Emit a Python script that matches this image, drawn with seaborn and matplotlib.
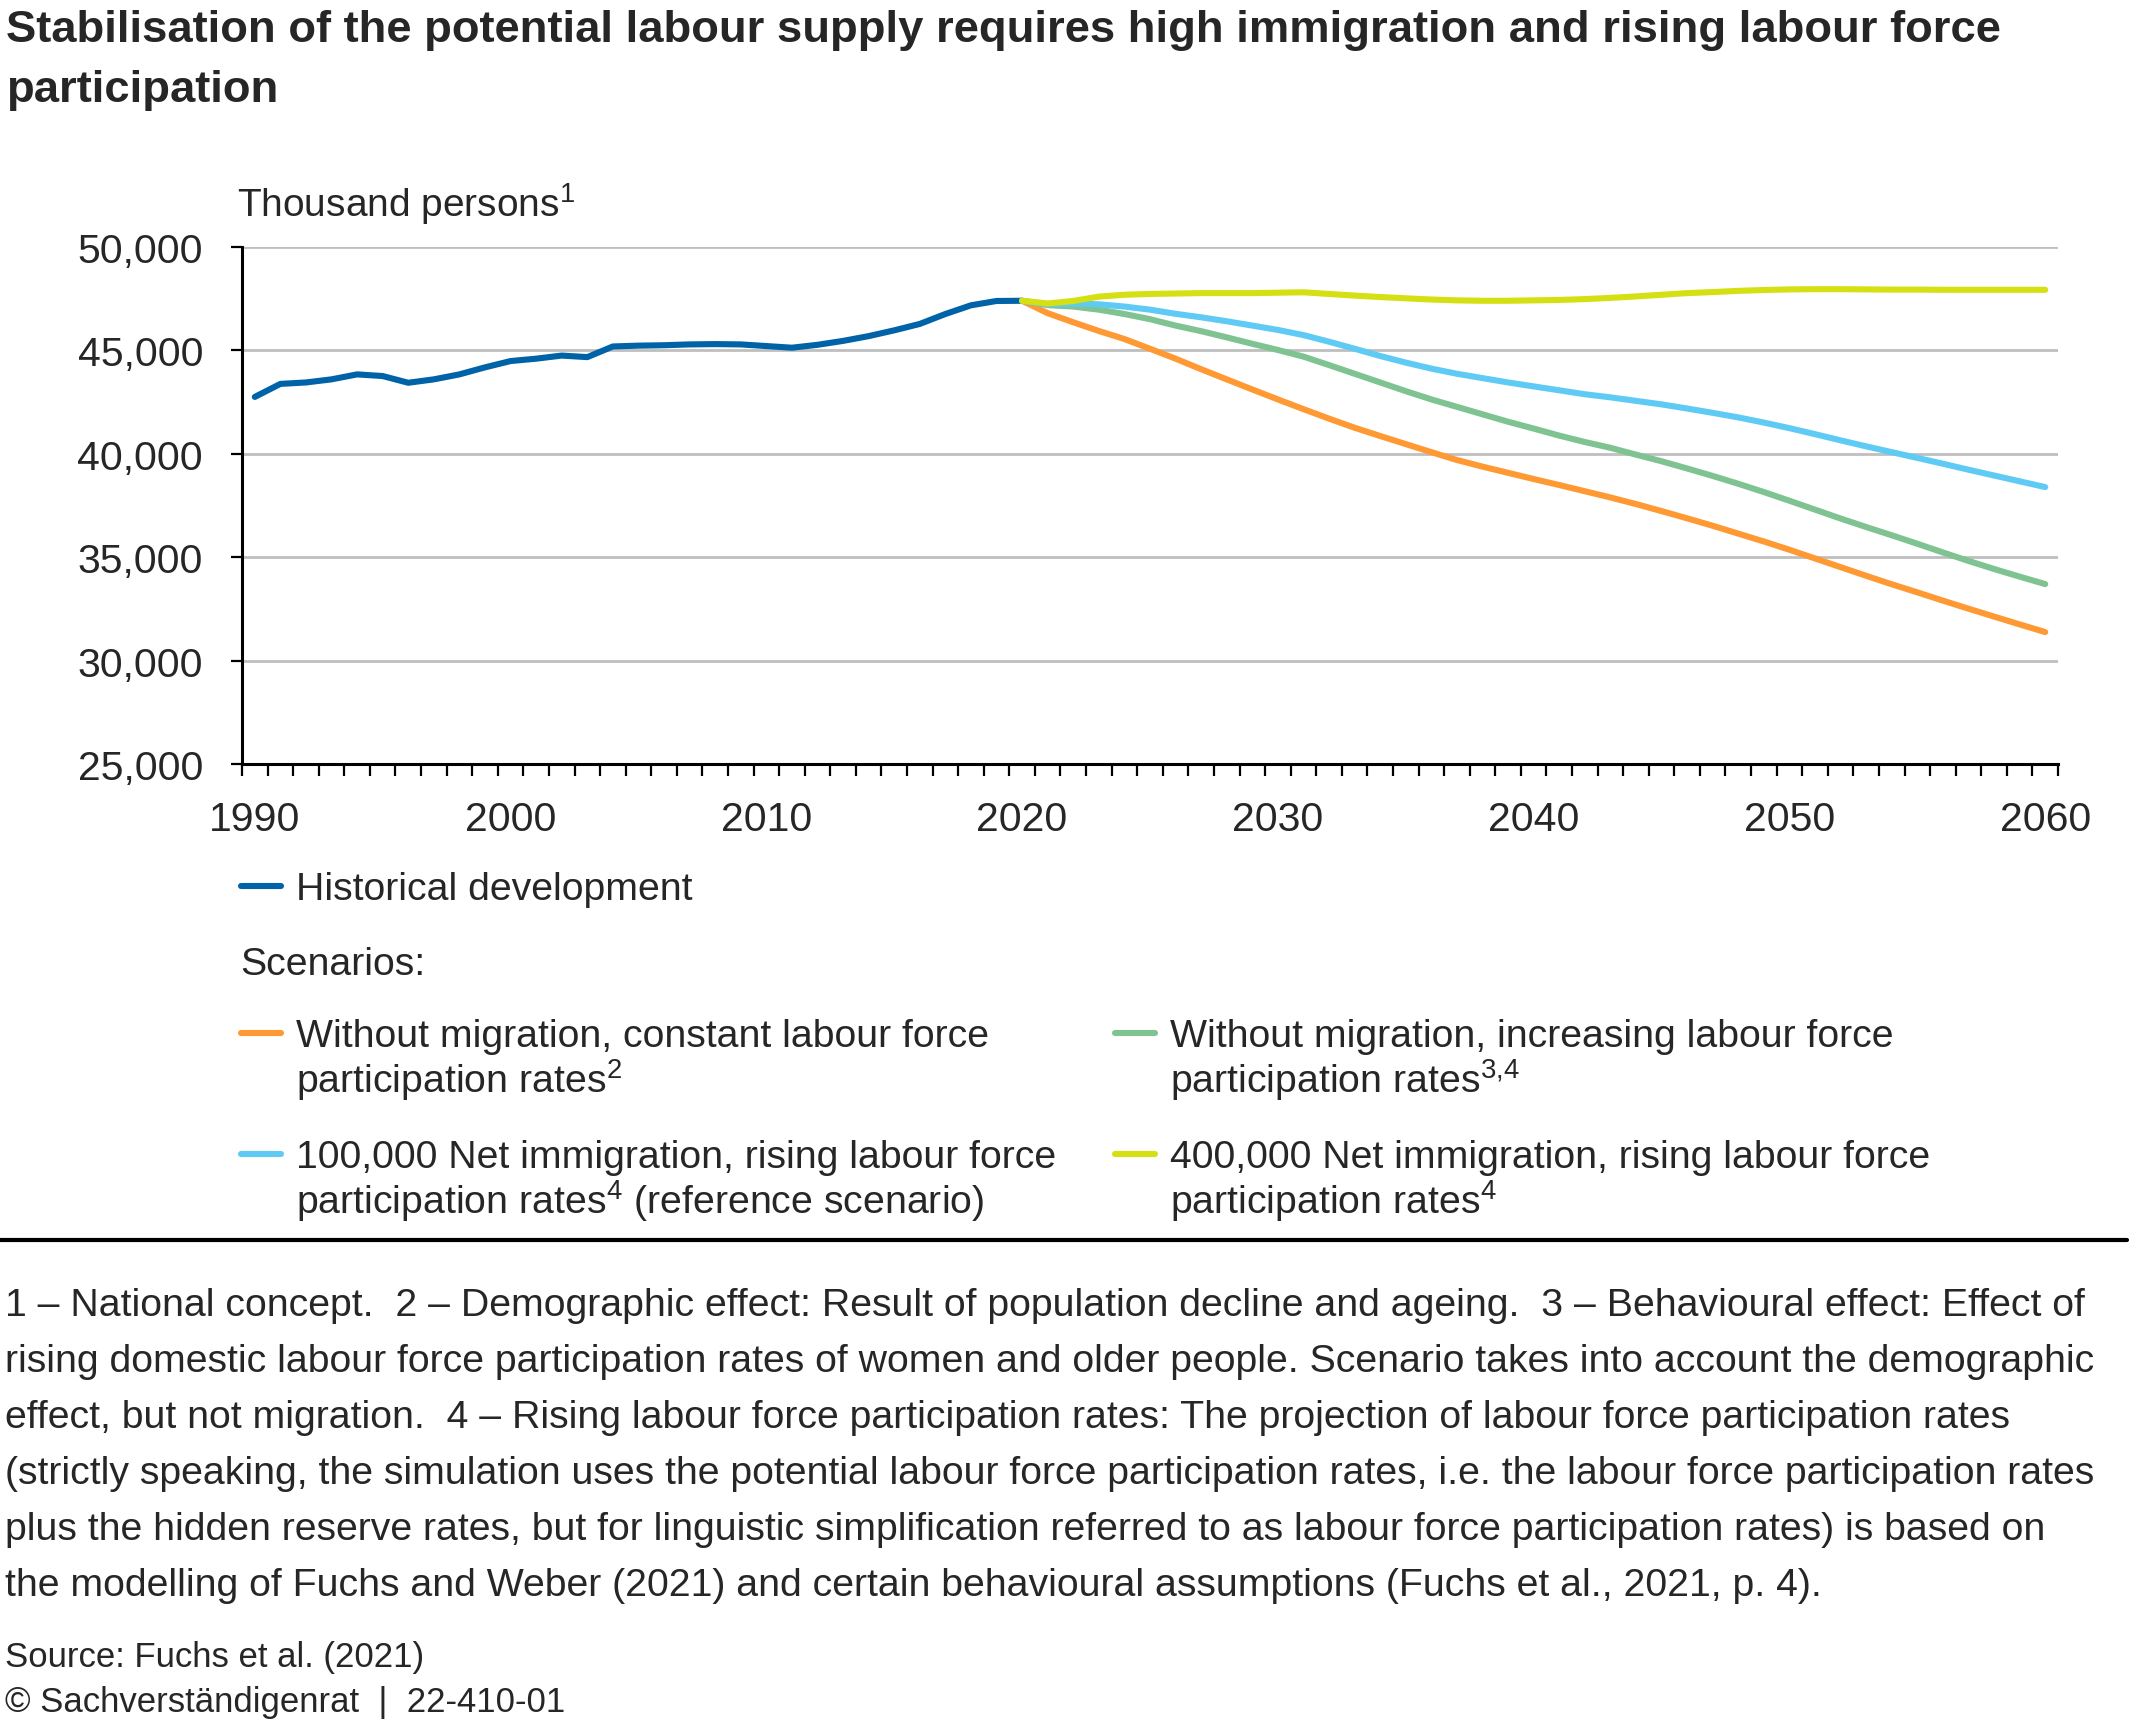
import numpy as np
import pandas as pd
import seaborn as sns
import matplotlib.pyplot as plt
from matplotlib.lines import Line2D
from matplotlib.ticker import FuncFormatter, FixedLocator

# --- data (thousand persons) ---
hist_years = list(range(1990, 2021))
hist_values = [
    42750, 43380, 43450, 43600, 43840, 43760, 43435, 43600, 43840, 44180,
    44485, 44600, 44750, 44675, 45190, 45230, 45250, 45290, 45305, 45290,
    45210, 45130, 45270, 45460, 45690, 45970, 46280, 46760, 47180, 47390,
    47400,
]

scen_years = list(range(2020, 2061))
no_migr_const = [
    47400, 46800, 46360, 45940, 45550, 45080, 44600, 44090, 43600, 43110,
    42630, 42160, 41700, 41260, 40860, 40470, 40080, 39700, 39380, 39080,
    38780, 38490, 38190, 37890, 37570, 37230, 36880, 36520, 36140, 35760,
    35360, 34940, 34520, 34100, 33690, 33300, 32900, 32510, 32130, 31750,
    31380,
]
no_migr_incr = [
    47400, 47190, 47120, 46970, 46760, 46510, 46200, 45930, 45630, 45320,
    45020, 44700, 44290, 43870, 43450, 43030, 42630, 42270, 41910, 41550,
    41220, 40880, 40570, 40290, 39960, 39640, 39290, 38930, 38550, 38150,
    37730, 37300, 36870, 36460, 36060, 35650, 35230, 34820, 34430, 34060,
    33700,
]
net_100k = [
    47400, 47230, 47270, 47230, 47120, 46970, 46770, 46600, 46410, 46200,
    45990, 45740, 45420, 45080, 44730, 44410, 44120, 43870, 43660, 43450,
    43260, 43070, 42880, 42730, 42560, 42390, 42190, 41980, 41760, 41510,
    41240, 40950, 40650, 40360, 40080, 39800, 39520, 39230, 38950, 38670,
    38390,
]
net_400k = [
    47400, 47270, 47390, 47600, 47690, 47730, 47750, 47770, 47770, 47770,
    47790, 47810, 47730, 47650, 47580, 47520, 47460, 47420, 47400, 47400,
    47420, 47440, 47480, 47540, 47610, 47690, 47770, 47820, 47880, 47920,
    47950, 47960, 47960, 47950, 47940, 47940, 47930, 47930, 47930, 47930,
    47930,
]

series_names = ["hist", "const", "incr", "100k", "400k"]
colors = {
    "hist": "#0063a8",
    "const": "#ff9933",
    "incr": "#7ec391",
    "100k": "#5fcbf5",
    "400k": "#d5e013",
}

frames = [pd.DataFrame({"year": hist_years, "value": hist_values, "series": "hist"})]
for name, vals in zip(series_names[1:], [no_migr_const, no_migr_incr, net_100k, net_400k]):
    frames.append(pd.DataFrame({"year": scen_years, "value": vals, "series": name}))
df = pd.concat(frames, ignore_index=True)

# --- style ---
sns.set_theme(style="white")
plt.rcParams["font.family"] = ["Liberation Sans", "DejaVu Sans"]
plt.rcParams["mathtext.fontset"] = "custom"
plt.rcParams["mathtext.rm"] = "Liberation Sans"
plt.rcParams["mathtext.it"] = "Liberation Sans:italic"
plt.rcParams["mathtext.bf"] = "Liberation Sans:bold"

W, H = 2133, 1731
fig = plt.figure(figsize=(W / 100, H / 100), dpi=100)


def fx(px):
    return px / W


def fy(py):
    return 1 - py / H


ax = fig.add_axes([fx(242), fy(765), fx(2058) - fx(242), fy(248) - fy(765)])

sns.lineplot(data=df, x="year", y="value", hue="series", hue_order=series_names,
             palette=colors, linewidth=4.4, legend=False, ax=ax)
for ln in ax.lines:
    ln.set_solid_capstyle("round")

ax.set_xlim(1989.5, 2060.5)
ax.set_ylim(25000, 50000)
ax.set_xlabel("")
ax.set_ylabel("")

ax.set_yticks(np.arange(25000, 50001, 5000))
ax.yaxis.set_major_formatter(FuncFormatter(lambda v, p: f"{int(v):,}"))
ax.set_xticks(np.arange(1990, 2061, 10))
ax.xaxis.set_minor_locator(FixedLocator(np.arange(1989.5, 2061, 1)))

ax.tick_params(axis="y", which="major", direction="out", length=8, width=1.6,
               color="black", labelsize=29.5, pad=20, left=True)
ax.tick_params(axis="x", which="major", length=0, labelsize=29.5, pad=26)
ax.tick_params(axis="x", which="minor", direction="out", length=8.5, width=1.6,
               color="black", bottom=True)

ax.yaxis.grid(True, color="#bfbfbf", linewidth=2)
ax.xaxis.grid(False)
ax.set_axisbelow(True)
for side in ["top", "right"]:
    ax.spines[side].set_visible(False)
for side in ["left", "bottom"]:
    ax.spines[side].set_color("black")
    ax.spines[side].set_linewidth(2.2)

# --- texts ---
TS = 32.7
fig.text(fx(6), fy(42), "Stabilisation of the potential labour supply requires high immigration and rising labour force",
         fontsize=TS, fontweight="bold", va="baseline", ha="left")
fig.text(fx(6), fy(102), "participation", fontsize=TS, fontweight="bold", va="baseline", ha="left")

fig.text(fx(237), fy(217), r"Thousand persons$^{\mathrm{1}}$", fontsize=28, va="baseline", ha="left")

# --- legend, laid out as in the reference ---
FS = 28.3


def key(x0, y, name):
    fig.add_artist(Line2D([fx(x0), fx(x0 + 40)], [fy(y), fy(y)], color=colors[name],
                          linewidth=4.4, transform=fig.transFigure))


key(241, 887, "hist")
fig.text(fx(296), fy(900), "Historical development", fontsize=FS, va="baseline")
fig.text(fx(240), fy(975), "Scenarios:", fontsize=FS, va="baseline")

key(241, 1034, "const")
fig.text(fx(296), fy(1047), "Without migration, constant labour force", fontsize=FS, va="baseline")
fig.text(fx(296), fy(1093), r"participation rates$^{\mathrm{2}}$", fontsize=FS, va="baseline")

key(1115, 1034, "incr")
fig.text(fx(1170), fy(1047), "Without migration, increasing labour force", fontsize=FS, va="baseline")
fig.text(fx(1170), fy(1093), r"participation rates$^{\mathrm{3{,}4}}$", fontsize=FS, va="baseline")

key(241, 1155, "100k")
fig.text(fx(296), fy(1168), "100,000 Net immigration, rising labour force", fontsize=FS, va="baseline")
fig.text(fx(296), fy(1214), r"participation rates$^{\mathrm{4}}$ (reference scenario)", fontsize=FS, va="baseline")

key(1115, 1155, "400k")
fig.text(fx(1170), fy(1168), "400,000 Net immigration, rising labour force", fontsize=FS, va="baseline")
fig.text(fx(1170), fy(1214), r"participation rates$^{\mathrm{4}}$", fontsize=FS, va="baseline")

# separator
fig.add_artist(Line2D([0, fx(2127)], [fy(1241), fy(1241)], color="black", linewidth=3,
                      transform=fig.transFigure))

notes = [
    "1 \u2013 National concept.  2 \u2013 Demographic effect: Result of population decline and ageing.  3 \u2013 Behavioural effect: Effect of",
    "rising domestic labour force participation rates of women and older people. Scenario takes into account the demographic",
    "effect, but not migration.  4 \u2013 Rising labour force participation rates: The projection of labour force participation rates",
    "(strictly speaking, the simulation uses the potential labour force participation rates, i.e. the labour force participation rates",
    "plus the hidden reserve rates, but for linguistic simplification referred to as labour force participation rates) is based on",
    "the modelling of Fuchs and Weber (2021) and certain behavioural assumptions (Fuchs et al., 2021, p. 4).",
]
for i, line in enumerate(notes):
    fig.text(fx(5), fy(1316 + i * 56.1), line, fontsize=FS, va="baseline", ha="left")

fig.text(fx(5), fy(1667), "Source: Fuchs et al. (2021)", fontsize=25, va="baseline")
fig.text(fx(5), fy(1712), "\u00a9 Sachverst\u00e4ndigenrat  |  22-410-01", fontsize=25, va="baseline")

fig.savefig("out.png", dpi=100)
